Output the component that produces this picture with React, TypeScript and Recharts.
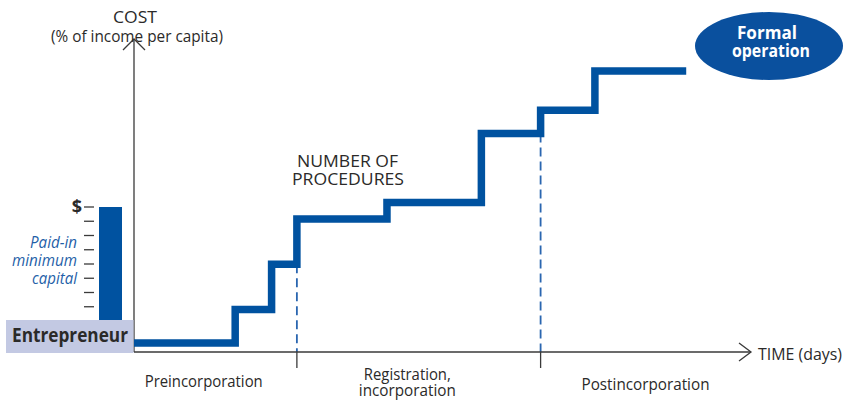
import { ComposedChart, Line, XAxis, YAxis, ReferenceLine, BarChart, Bar } from 'recharts';

// step line: time (0-100) vs cost (0-100)
const stepTimes = [0, 16.4, 22.3, 26.4, 41.0, 56.3, 65.9, 74.7, 89.5];
const stepCosts = [2.9, 13.6, 28.0, 42.5, 47.8, 69.8, 77.2, 89.8, 89.8];

const phaseBreaks = [26.4, 65.9];
const phaseNames = [['Preincorporation'], ['Registration,', 'incorporation'], ['Postincorporation']];
const phaseLabelAt = [11.3, 44.3, 82.9];

const capitalLevel = [8];
const capitalTicks = [1, 2, 3, 4, 5, 6, 7, 8];

const BLUE = '#0052a0';
const INK = '#2b2a29';
const AXIS = '#3a3a3a';
const FONT = '"Open Sans", sans-serif';

const steps = stepTimes.map((t, i) => ({ t, cost: stepCosts[i] }));
const capital = capitalLevel.map((v) => ({ name: 'capital', v }));
const dashed = phaseBreaks.map((t) => {
  const i = stepTimes.indexOf(t);
  return { t, from: stepCosts[i - 1] };
});

// baseline offsets / widths of the phase labels
const phaseDy = [[35], [28, 44], [38]];
const phaseW = [[118], [87, 97], [128]];

function PhaseTick(props: any) {
  const { x, y, payload } = props;
  if (phaseBreaks.includes(payload.value)) {
    return <line x1={x} x2={x} y1={y} y2={y + 16} stroke={AXIS} strokeWidth={1.3} />;
  }
  const k = phaseLabelAt.indexOf(payload.value);
  if (k < 0) return <g />;
  return (
    <g>
      {phaseNames[k].map((s, j) => (
        <text
          key={s}
          x={x}
          y={y + phaseDy[k][j]}
          textAnchor="middle"
          fontFamily={FONT}
          fontSize={16.5}
          fill={INK}
          textLength={phaseW[k][j]}
          lengthAdjust="spacingAndGlyphs"
        >
          {s}
        </text>
      ))}
    </g>
  );
}

function DollarTick(props: any) {
  const { x, y, payload } = props;
  if (payload.value !== capitalTicks[capitalTicks.length - 1]) return <g />;
  return (
    <text x={x} y={y + 6} textAnchor="end" fontFamily={FONT} fontWeight={700} fontSize={18} fill={INK}>
      $
    </text>
  );
}

export default function App() {
  return (
    <div style={{ position: 'relative', width: 853, height: 400 }}>
      <style>{'body{margin:0}'}</style>
      <div style={{ position: 'absolute', left: 0, top: 0 }}>
        <ComposedChart width={853} height={400} data={steps} margin={{ top: 39, right: 102, left: 134, bottom: 0 }}>
          <XAxis
            type="number"
            dataKey="t"
            domain={[0, 100]}
            allowDataOverflow
            height={48}
            ticks={[...phaseBreaks, ...phaseLabelAt].sort((a, b) => a - b)}
            interval={0}
            tickSize={0}
            tickMargin={0}
            tickLine={false}
            axisLine={{ stroke: AXIS, strokeWidth: 1.3 }}
            tick={(p: any) => <PhaseTick {...p} />}
          />
          <YAxis type="number" domain={[0, 100]} allowDataOverflow hide />
          <ReferenceLine x={0} stroke={AXIS} strokeWidth={1.3} />
          {dashed.map((d) => (
            <ReferenceLine
              key={d.t}
              segment={[{ x: d.t, y: d.from }, { x: d.t, y: 0 }]}
              stroke="#2a66b0"
              strokeWidth={1.8}
              strokeDasharray="9 5"
            />
          ))}
          <Line
            type="stepAfter"
            dataKey="cost"
            stroke={BLUE}
            strokeWidth={7.5}
            strokeLinejoin="miter"
            strokeLinecap="butt"
            dot={false}
            activeDot={false}
            isAnimationActive={false}
          />
        </ComposedChart>
      </div>
      <div style={{ position: 'absolute', left: 0, top: 0 }}>
        <BarChart width={134} height={400} data={capital} margin={{ top: 207, right: 7, bottom: 79, left: 64 }}>
          <XAxis dataKey="name" hide />
          <YAxis
            type="number"
            domain={[0, 8]}
            ticks={capitalTicks}
            interval={0}
            width={30}
            axisLine={false}
            stroke={AXIS}
            tickSize={10}
            tickLine={{ stroke: AXIS, strokeWidth: 1.3 }}
            tick={(p: any) => <DollarTick {...p} />}
          />
          <Bar dataKey="v" fill={BLUE} barSize={23} isAnimationActive={false} />
        </BarChart>
      </div>
      <svg width={853} height={400} style={{ position: 'absolute', left: 0, top: 0, pointerEvents: 'none' }}>
        <rect x={6} y={320} width={127.5} height={33} fill="#c3c9e3" />
        <text x={12} y={342} fontFamily={FONT} fontWeight={700} fontSize={19.5} fill={INK} textLength={116} lengthAdjust="spacingAndGlyphs">
          Entrepreneur
        </text>
        <g fontFamily={FONT} fontStyle="italic" fontSize={16.5} fill="#1f5fa8" textAnchor="end">
          <text x={77} y={248} textLength={47} lengthAdjust="spacingAndGlyphs">Paid-in</text>
          <text x={77} y={266} textLength={65} lengthAdjust="spacingAndGlyphs">minimum</text>
          <text x={77} y={284} textLength={45} lengthAdjust="spacingAndGlyphs">capital</text>
        </g>
        <path d="M123,50 L134,39 L145,50" fill="none" stroke={AXIS} strokeWidth={1.3} />
        <path d="M739,343 L751,352 L739,361" fill="none" stroke={AXIS} strokeWidth={1.3} />
        <g fontFamily={FONT} fontSize={16.5} fill={INK} textAnchor="middle">
          <text x={135} y={23} textLength={44} lengthAdjust="spacingAndGlyphs">COST</text>
          <text x={137} y={42} textLength={172} lengthAdjust="spacingAndGlyphs">(% of income per capita)</text>
          <text x={347.5} y={167} textLength={101} lengthAdjust="spacingAndGlyphs">NUMBER OF</text>
          <text x={348} y={185} textLength={112} lengthAdjust="spacingAndGlyphs">PROCEDURES</text>
        </g>
        <text x={758} y={360} fontFamily={FONT} fontSize={16.5} fill={INK} textLength={84} lengthAdjust="spacingAndGlyphs">
          TIME (days)
        </text>
        <ellipse cx={769} cy={46} rx={74} ry={34} fill="#0a509e" />
        <g fontFamily={FONT} fontWeight={700} fontSize={18.5} fill="#ffffff" textAnchor="middle">
          <text x={767} y={39} textLength={60} lengthAdjust="spacingAndGlyphs">Formal</text>
          <text x={771} y={57} textLength={78} lengthAdjust="spacingAndGlyphs">operation</text>
        </g>
      </svg>
    </div>
  );
}
